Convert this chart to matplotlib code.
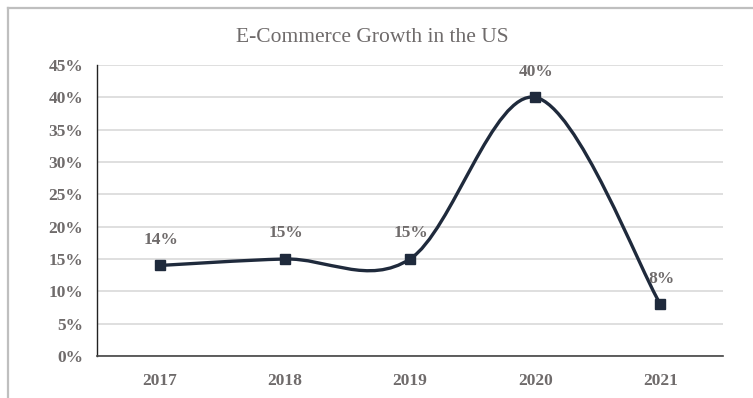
import matplotlib
matplotlib.use("Agg")
import matplotlib.pyplot as plt
from matplotlib.path import Path
from matplotlib.patches import PathPatch
from matplotlib.lines import Line2D
import numpy as np

years = ["2017", "2018", "2019", "2020", "2021"]
growth = [14, 15, 15, 40, 8]
labels = ["14%", "15%", "15%", "40%", "8%"]
yticks = [0, 5, 10, 15, 20, 25, 30, 35, 40, 45]

W, H = 753, 398
fig = plt.figure(figsize=(W / 100, H / 100), dpi=100)
ax = fig.add_axes([97 / W, 1 - 356 / H, (723 - 97) / W, (356 - 65) / H])

line_col = "#1f2a3c"
txt_col = "#6f6b6b"
font = "Liberation Serif"

x = np.arange(len(years))
y = np.array(growth, dtype=float)

# Catmull-Rom style smooth curve through points (like Excel smoothed line)
px = np.concatenate([[x[0]], x, [x[-1]]])
py = np.concatenate([[y[0]], y, [y[-1]]])
verts = [(x[0], y[0])]
codes = [Path.MOVETO]
for i in range(1, len(px) - 2):
    p0 = np.array([px[i - 1], py[i - 1]])
    p1 = np.array([px[i], py[i]])
    p2 = np.array([px[i + 1], py[i + 1]])
    p3 = np.array([px[i + 2], py[i + 2]])
    c1 = p1 + (p2 - p0) / 6
    c2 = p2 - (p3 - p1) / 6
    verts += [tuple(c1), tuple(c2), tuple(p2)]
    codes += [Path.CURVE4] * 3
patch = PathPatch(Path(verts, codes), facecolor="none", edgecolor=line_col,
                  lw=2.4, zorder=3, capstyle="round")
ax.add_patch(patch)
ax.plot(x, y, linestyle="none", marker="s", ms=7, color=line_col, zorder=4)

for xi, yi, lab in zip(x, y, labels):
    ax.annotate(lab, (xi, yi), xytext=(1, 18.5), textcoords="offset points",
                ha="center", va="center", fontsize=12.5, fontweight="bold",
                color=txt_col, family=font)

ax.set_xlim(-0.5, len(years) - 0.5)
ax.set_ylim(0, 45)
ax.set_yticks(yticks)
ax.set_yticklabels([f"{t}%" for t in yticks])
ax.set_xticks(x)
ax.set_xticklabels(years)
ax.grid(axis="y", color="#d9d9d9", lw=1.2)
ax.set_axisbelow(True)
for s in ["top", "right"]:
    ax.spines[s].set_visible(False)
ax.spines["left"].set_color("#222222")
ax.spines["left"].set_linewidth(1.0)
ax.spines["bottom"].set_color("#444444")
ax.spines["bottom"].set_linewidth(1.2)
ax.tick_params(axis="both", length=0, labelsize=12.5, labelcolor=txt_col)
ax.tick_params(axis="y", pad=10)
ax.tick_params(axis="x", pad=12)
for lab in ax.get_xticklabels() + ax.get_yticklabels():
    lab.set_family(font)
    lab.set_fontweight("bold")

fig.text(372 / W, 1 - 38 / H, "E-Commerce Growth in the US", ha="center",
         va="center", fontsize=15.5, color=txt_col, family=font)

# outer chart frame (partially visible)
fig.add_artist(Line2D([8 / W, 1], [1 - 8 / H, 1 - 8 / H], color="#bfbfbf", lw=1.6,
                      transform=fig.transFigure))
fig.add_artist(Line2D([8 / W, 8 / W], [0, 1 - 8 / H], color="#bfbfbf", lw=1.6,
                      transform=fig.transFigure))

fig.savefig("out.png", dpi=100)
